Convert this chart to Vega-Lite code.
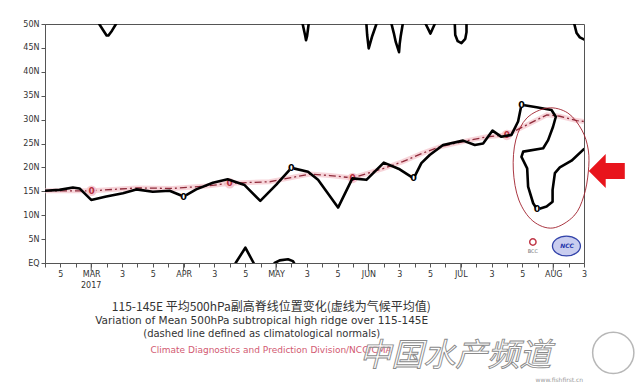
{
  "$schema": "https://vega.github.io/schema/vega-lite/v6.json",
  "width": 539,
  "height": 239,
  "autosize": "none",
  "padding": {"left": 45, "top": 24, "right": 52, "bottom": 127},
  "background": "white",
  "config": {
    "font": "DejaVu Sans",
    "view": {"stroke": "#555", "strokeWidth": 1},
    "axis": {"grid": false, "domainColor": "#555", "tickColor": "#555", "labelColor": "#333", "labelFont": "DejaVu Sans", "labelFontSize": 8}
  },
  "resolve": {"axis": {"x": "independent", "y": "independent"}},
  "datasets": {
    "obs": [
      {"seg": "m", "i": 0, "p": -1.0, "lat": 15.1},
      {"seg": "m", "i": 1, "p": -0.06, "lat": 15.3},
      {"seg": "m", "i": 2, "p": 0.81, "lat": 15.8},
      {"seg": "m", "i": 3, "p": 1.24, "lat": 15.6},
      {"seg": "m", "i": 4, "p": 2.0, "lat": 13.2},
      {"seg": "m", "i": 5, "p": 2.98, "lat": 13.9},
      {"seg": "m", "i": 6, "p": 4.06, "lat": 14.6},
      {"seg": "m", "i": 7, "p": 4.93, "lat": 15.4},
      {"seg": "m", "i": 8, "p": 6.0, "lat": 14.9},
      {"seg": "m", "i": 9, "p": 7.09, "lat": 15.1},
      {"seg": "m", "i": 10, "p": 8.0, "lat": 13.9},
      {"seg": "m", "i": 11, "p": 8.82, "lat": 15.4},
      {"seg": "m", "i": 12, "p": 9.9, "lat": 16.8},
      {"seg": "m", "i": 13, "p": 10.86, "lat": 17.5},
      {"seg": "m", "i": 14, "p": 11.96, "lat": 16.3},
      {"seg": "m", "i": 15, "p": 12.98, "lat": 13.0},
      {"seg": "m", "i": 16, "p": 14.02, "lat": 16.4},
      {"seg": "m", "i": 17, "p": 15.0, "lat": 19.9},
      {"seg": "m", "i": 18, "p": 16.08, "lat": 19.1},
      {"seg": "m", "i": 19, "p": 16.73, "lat": 17.4},
      {"seg": "m", "i": 20, "p": 18.03, "lat": 11.6},
      {"seg": "m", "i": 21, "p": 18.96, "lat": 17.7},
      {"seg": "m", "i": 22, "p": 19.87, "lat": 17.4},
      {"seg": "m", "i": 23, "p": 21.0, "lat": 21.0},
      {"seg": "m", "i": 24, "p": 22.03, "lat": 19.6},
      {"seg": "m", "i": 25, "p": 22.94, "lat": 17.7},
      {"seg": "m", "i": 26, "p": 23.44, "lat": 20.9},
      {"seg": "m", "i": 27, "p": 23.98, "lat": 22.6},
      {"seg": "m", "i": 28, "p": 24.85, "lat": 24.7},
      {"seg": "m", "i": 29, "p": 26.15, "lat": 25.6},
      {"seg": "m", "i": 30, "p": 26.91, "lat": 24.7},
      {"seg": "m", "i": 31, "p": 27.45, "lat": 25.0},
      {"seg": "m", "i": 32, "p": 28.06, "lat": 27.7},
      {"seg": "m", "i": 33, "p": 28.64, "lat": 26.4},
      {"seg": "m", "i": 34, "p": 29.29, "lat": 26.8},
      {"seg": "m", "i": 35, "p": 29.72, "lat": 29.6},
      {"seg": "m", "i": 36, "p": 29.94, "lat": 33.1},
      {"seg": "m", "i": 37, "p": 30.92, "lat": 32.6},
      {"seg": "m", "i": 38, "p": 31.89, "lat": 32.0},
      {"seg": "m", "i": 39, "p": 32.17, "lat": 30.6},
      {"seg": "m", "i": 40, "p": 31.99, "lat": 28.5},
      {"seg": "m", "i": 41, "p": 31.67, "lat": 25.7},
      {"seg": "m", "i": 42, "p": 31.35, "lat": 24.0},
      {"seg": "m", "i": 43, "p": 30.05, "lat": 23.3},
      {"seg": "m", "i": 44, "p": 29.94, "lat": 22.2},
      {"seg": "m", "i": 45, "p": 30.31, "lat": 19.8},
      {"seg": "m", "i": 46, "p": 30.37, "lat": 16.0},
      {"seg": "m", "i": 47, "p": 30.7, "lat": 12.5},
      {"seg": "m", "i": 48, "p": 30.96, "lat": 11.2},
      {"seg": "m", "i": 49, "p": 31.57, "lat": 11.8},
      {"seg": "m", "i": 50, "p": 31.96, "lat": 12.8},
      {"seg": "m", "i": 51, "p": 31.96, "lat": 15.3},
      {"seg": "m", "i": 52, "p": 32.11, "lat": 18.8},
      {"seg": "m", "i": 53, "p": 32.43, "lat": 20.0},
      {"seg": "m", "i": 54, "p": 33.19, "lat": 21.4},
      {"seg": "m", "i": 55, "p": 33.99, "lat": 23.8},
      {"seg": "A", "i": 0, "p": 2.52, "lat": 50},
      {"seg": "A", "i": 1, "p": 2.8, "lat": 48.6},
      {"seg": "A", "i": 2, "p": 3.0, "lat": 47.6},
      {"seg": "A", "i": 3, "p": 3.12, "lat": 47.6},
      {"seg": "A", "i": 4, "p": 3.35, "lat": 48.6},
      {"seg": "A", "i": 5, "p": 3.61, "lat": 50},
      {"seg": "B", "i": 0, "p": 15.73, "lat": 50},
      {"seg": "B", "i": 1, "p": 15.9, "lat": 47.5},
      {"seg": "B", "i": 2, "p": 15.95, "lat": 46.6},
      {"seg": "B", "i": 3, "p": 16.02, "lat": 47.5},
      {"seg": "B", "i": 4, "p": 16.12, "lat": 50},
      {"seg": "C", "i": 0, "p": 19.87, "lat": 50},
      {"seg": "C", "i": 1, "p": 19.92, "lat": 47.7},
      {"seg": "C", "i": 2, "p": 20.02, "lat": 44.9},
      {"seg": "C", "i": 3, "p": 20.25, "lat": 47.5},
      {"seg": "C", "i": 4, "p": 20.52, "lat": 50},
      {"seg": "D", "i": 0, "p": 21.5, "lat": 50},
      {"seg": "D", "i": 1, "p": 21.65, "lat": 48.1},
      {"seg": "D", "i": 2, "p": 21.78, "lat": 46.2},
      {"seg": "D", "i": 3, "p": 21.99, "lat": 44.1},
      {"seg": "D", "i": 4, "p": 22.03, "lat": 45.8},
      {"seg": "D", "i": 5, "p": 22.1, "lat": 47.5},
      {"seg": "D", "i": 6, "p": 22.23, "lat": 50},
      {"seg": "E", "i": 0, "p": 23.72, "lat": 50},
      {"seg": "E", "i": 1, "p": 24.03, "lat": 48.0},
      {"seg": "E", "i": 2, "p": 24.31, "lat": 50},
      {"seg": "F", "i": 0, "p": 25.61, "lat": 50},
      {"seg": "F", "i": 1, "p": 25.64, "lat": 47.7},
      {"seg": "F", "i": 2, "p": 25.8, "lat": 46.4},
      {"seg": "F", "i": 3, "p": 26.04, "lat": 46.0},
      {"seg": "F", "i": 4, "p": 26.29, "lat": 46.9},
      {"seg": "F", "i": 5, "p": 26.37, "lat": 48.3},
      {"seg": "F", "i": 6, "p": 26.37, "lat": 50},
      {"seg": "G", "i": 0, "p": 33.37, "lat": 50},
      {"seg": "G", "i": 1, "p": 33.52, "lat": 48.1},
      {"seg": "G", "i": 2, "p": 33.73, "lat": 47.2},
      {"seg": "G", "i": 3, "p": 33.99, "lat": 46.8},
      {"seg": "H", "i": 0, "p": 11.38, "lat": 0},
      {"seg": "H", "i": 1, "p": 12.01, "lat": 3.2},
      {"seg": "H", "i": 2, "p": 12.55, "lat": 0},
      {"seg": "I", "i": 0, "p": 13.91, "lat": 0},
      {"seg": "I", "i": 1, "p": 14.24, "lat": 0.55},
      {"seg": "I", "i": 2, "p": 14.78, "lat": 0.8},
      {"seg": "I", "i": 3, "p": 15.1, "lat": 0.4},
      {"seg": "I", "i": 4, "p": 15.17, "lat": 0}
    ],
    "clim": [
      {"i": 0, "p": -1.0, "lat": 15.1},
      {"i": 1, "p": 2.02, "lat": 15.1},
      {"i": 2, "p": 4.95, "lat": 15.7},
      {"i": 3, "p": 7.28, "lat": 15.6},
      {"i": 4, "p": 9.49, "lat": 16.1},
      {"i": 5, "p": 10.99, "lat": 16.7},
      {"i": 6, "p": 13.59, "lat": 17.0},
      {"i": 7, "p": 16.19, "lat": 18.6},
      {"i": 8, "p": 17.5, "lat": 18.3},
      {"i": 9, "p": 18.98, "lat": 17.8},
      {"i": 10, "p": 20.99, "lat": 19.8},
      {"i": 11, "p": 22.23, "lat": 21.2},
      {"i": 12, "p": 23.53, "lat": 23.0},
      {"i": 13, "p": 24.64, "lat": 24.3},
      {"i": 14, "p": 26.58, "lat": 25.7},
      {"i": 15, "p": 27.69, "lat": 26.4},
      {"i": 16, "p": 28.99, "lat": 26.8},
      {"i": 17, "p": 30.48, "lat": 29.2},
      {"i": 18, "p": 31.59, "lat": 31.0},
      {"i": 19, "p": 32.43, "lat": 30.7},
      {"i": 20, "p": 33.53, "lat": 29.8},
      {"i": 21, "p": 33.99, "lat": 29.6}
    ],
    "lab0": [
      {"p": 8.0, "lat": 13.9},
      {"p": 15.0, "lat": 19.9},
      {"p": 22.94, "lat": 17.7},
      {"p": 29.94, "lat": 33.1},
      {"p": 30.96, "lat": 11.2}
    ],
    "labc": [
      {"p": 2.02, "lat": 15.1},
      {"p": 10.99, "lat": 16.7},
      {"p": 18.98, "lat": 17.8},
      {"p": 28.99, "lat": 26.8}
    ],
    "ell": [
      {"i": 0, "p": 31.65, "lat": 32.43},
      {"i": 1, "p": 32.95, "lat": 31.38},
      {"i": 2, "p": 33.86, "lat": 27.82},
      {"i": 3, "p": 34.28, "lat": 23.64},
      {"i": 4, "p": 34.28, "lat": 19.04},
      {"i": 5, "p": 33.99, "lat": 14.02},
      {"i": 6, "p": 33.34, "lat": 9.83},
      {"i": 7, "p": 31.98, "lat": 7.32},
      {"i": 8, "p": 30.68, "lat": 8.79},
      {"i": 9, "p": 29.77, "lat": 13.18},
      {"i": 10, "p": 29.41, "lat": 19.46},
      {"i": 11, "p": 29.57, "lat": 25.73},
      {"i": 12, "p": 30.29, "lat": 30.33}
    ],
    "months": [
      {"p": 2}, {"p": 8}, {"p": 14}, {"p": 20}, {"p": 26}, {"p": 32}
    ]
  },
  "layer": [
    {
      "data": {"name": "clim"},
      "mark": {"type": "line", "stroke": "#f3c3cb", "strokeWidth": 5, "opacity": 0.7, "clip": true},
      "encoding": {
        "x": {"field": "p", "type": "quantitative", "scale": {"domain": [-1, 34], "nice": false, "zero": false},
          "axis": {
            "orient": "bottom",
            "title": null,
            "values": [-1,0,1,2,3,4,5,6,7,8,9,10,11,12,13,14,15,16,17,18,19,20,21,22,23,24,25,26,27,28,29,30,31,32,33,34],
            "labelExpr": "datum.value==2?'MAR':datum.value==8?'APR':datum.value==14?'MAY':datum.value==20?'JUN':datum.value==26?'JUL':datum.value==32?'AUG':(datum.value%6==4?'3':(datum.value%6==0?'5':''))",
            "tickSize": 4,
            "labelPadding": 3,
            "labelBaseline": "top",
            "labelOverlap": false,
            "labelFlush": false
          }},
        "y": {"field": "lat", "type": "quantitative", "scale": {"domain": [0, 50], "nice": false, "zero": false},
          "axis": {
            "orient": "left",
            "title": null,
            "values": [0,5,10,15,20,25,30,35,40,45,50],
            "labelExpr": "datum.value==0?'EQ':datum.value+'N'",
            "tickSize": 4,
            "labelPadding": 2,
            "labelOverlap": false,
            "labelFlush": false
          }},
        "order": {"field": "i", "type": "quantitative"}
      }
    },
    {
      "data": {"name": "months"},
      "mark": {"type": "rule", "stroke": "#555", "strokeWidth": 1, "clip": false},
      "encoding": {
        "x": {"field": "p", "type": "quantitative", "axis": {"orient": "bottom", "title": null, "labels": false, "ticks": false, "domain": false}},
        "y": {"datum": 0, "axis": {"orient": "left", "title": null, "labels": false, "ticks": false, "domain": false}},
        "y2": {"datum": -1.7}
      }
    },
    {
      "data": {"name": "clim"},
      "mark": {"type": "line", "stroke": "#8e2a3a", "strokeWidth": 1.3, "strokeDash": [7, 3, 2, 3], "clip": true},
      "encoding": {
        "x": {"field": "p", "type": "quantitative", "axis": {"orient": "bottom", "title": null, "labels": false, "ticks": false, "domain": false}},
        "y": {"field": "lat", "type": "quantitative", "axis": {"orient": "left", "title": null, "labels": false, "ticks": false, "domain": false}},
        "order": {"field": "i", "type": "quantitative"}
      }
    },
    {
      "data": {"name": "labc"},
      "mark": {"type": "point", "shape": "circle", "filled": true, "color": "#f5c6ce", "size": 110, "opacity": 0.9},
      "encoding": {
        "x": {"field": "p", "type": "quantitative", "axis": {"orient": "bottom", "title": null, "labels": false, "ticks": false, "domain": false}},
        "y": {"field": "lat", "type": "quantitative", "axis": {"orient": "left", "title": null, "labels": false, "ticks": false, "domain": false}}
      }
    },
    {
      "data": {"name": "labc"},
      "mark": {"type": "text", "text": "0", "color": "#b8303f", "fontSize": 9, "fontWeight": "bold", "baseline": "middle"},
      "encoding": {
        "x": {"field": "p", "type": "quantitative", "axis": {"orient": "bottom", "title": null, "labels": false, "ticks": false, "domain": false}},
        "y": {"field": "lat", "type": "quantitative", "axis": {"orient": "left", "title": null, "labels": false, "ticks": false, "domain": false}}
      }
    },
    {
      "data": {"name": "obs"},
      "mark": {"type": "line", "stroke": "#000", "strokeWidth": 2.6, "strokeJoin": "round", "strokeCap": "round", "clip": true},
      "encoding": {
        "x": {"field": "p", "type": "quantitative", "axis": {"orient": "bottom", "title": null, "labels": false, "ticks": false, "domain": false}},
        "y": {"field": "lat", "type": "quantitative", "axis": {"orient": "left", "title": null, "labels": false, "ticks": false, "domain": false}},
        "detail": {"field": "seg", "type": "nominal"},
        "order": {"field": "i", "type": "quantitative"}
      }
    },
    {
      "data": {"name": "lab0"},
      "mark": {"type": "point", "shape": "circle", "filled": true, "color": "#fff", "size": 30, "opacity": 1},
      "encoding": {
        "x": {"field": "p", "type": "quantitative", "axis": {"orient": "bottom", "title": null, "labels": false, "ticks": false, "domain": false}},
        "y": {"field": "lat", "type": "quantitative", "axis": {"orient": "left", "title": null, "labels": false, "ticks": false, "domain": false}}
      }
    },
    {
      "data": {"name": "lab0"},
      "mark": {"type": "text", "text": "0", "color": "#000", "fontSize": 9.5, "fontWeight": "bold", "baseline": "middle"},
      "encoding": {
        "x": {"field": "p", "type": "quantitative", "axis": {"orient": "bottom", "title": null, "labels": false, "ticks": false, "domain": false}},
        "y": {"field": "lat", "type": "quantitative", "axis": {"orient": "left", "title": null, "labels": false, "ticks": false, "domain": false}}
      }
    },
    {
      "data": {"name": "ell"},
      "mark": {"type": "line", "interpolate": "cardinal-closed", "stroke": "#a0202c", "strokeWidth": 0.9, "clip": false},
      "encoding": {
        "x": {"field": "p", "type": "quantitative", "axis": {"orient": "bottom", "title": null, "labels": false, "ticks": false, "domain": false}},
        "y": {"field": "lat", "type": "quantitative", "axis": {"orient": "left", "title": null, "labels": false, "ticks": false, "domain": false}},
        "order": {"field": "i", "type": "quantitative"}
      }
    },
    {
      "data": {"values": [{"k": "arrow"}]},
      "mark": {"type": "point", "shape": "M-1,0L-0.06,-0.94L-0.06,-0.44L1,-0.44L1,0.44L-0.06,0.44L-0.06,0.94Z", "size": 1296, "filled": true, "color": "#e8141c", "opacity": 1, "clip": false},
      "encoding": {
        "x": {"datum": 35.48, "axis": {"orient": "bottom", "title": null, "labels": false, "ticks": false, "domain": false}},
        "y": {"datum": 19.25, "axis": {"orient": "left", "title": null, "labels": false, "ticks": false, "domain": false}}
      }
    },
    {
      "data": {"values": [{"k": "NCC"}]},
      "mark": {"type": "point", "shape": "M-1,0A1,0.71 0 1,1 1,0A1,0.71 0 1,1 -1,0Z", "size": 784, "filled": true, "fill": "#c9cdef", "stroke": "#3344aa", "strokeWidth": 1.3, "opacity": 1},
      "encoding": {
        "x": {"datum": 32.86, "axis": {"orient": "bottom", "title": null, "labels": false, "ticks": false, "domain": false}},
        "y": {"datum": 3.56, "axis": {"orient": "left", "title": null, "labels": false, "ticks": false, "domain": false}}
      }
    },
    {
      "data": {"values": [{"t": "NCC"}]},
      "mark": {"type": "text", "color": "#2233aa", "fontSize": 6, "fontWeight": "bold", "fontStyle": "italic", "baseline": "middle"},
      "encoding": {
        "x": {"datum": 32.9, "axis": {"orient": "bottom", "title": null, "labels": false, "ticks": false, "domain": false}},
        "y": {"datum": 3.5, "axis": {"orient": "left", "title": null, "labels": false, "ticks": false, "domain": false}},
        "text": {"field": "t"}
      }
    },
    {
      "data": {"values": [{"k": "BCC"}]},
      "mark": {"type": "point", "shape": "circle", "filled": false, "stroke": "#c03848", "strokeWidth": 1.5, "size": 40, "opacity": 1},
      "encoding": {
        "x": {"datum": 30.68, "axis": {"orient": "bottom", "title": null, "labels": false, "ticks": false, "domain": false}},
        "y": {"datum": 4.4, "axis": {"orient": "left", "title": null, "labels": false, "ticks": false, "domain": false}}
      }
    },
    {
      "data": {"values": [{"t": "BCC"}]},
      "mark": {"type": "text", "color": "#777", "fontSize": 5, "baseline": "middle"},
      "encoding": {
        "x": {"datum": 30.68, "axis": {"orient": "bottom", "title": null, "labels": false, "ticks": false, "domain": false}},
        "y": {"datum": 2.5, "axis": {"orient": "left", "title": null, "labels": false, "ticks": false, "domain": false}},
        "text": {"field": "t"}
      }
    },
    {
      "data": {"values": [{"t": "2017"}]},
      "mark": {"type": "text", "color": "#333", "fontSize": 8, "baseline": "middle"},
      "encoding": {
        "x": {"datum": 2, "axis": {"orient": "bottom", "title": null, "labels": false, "ticks": false, "domain": false}},
        "y": {"datum": -4.9, "axis": {"orient": "left", "title": null, "labels": false, "ticks": false, "domain": false}},
        "text": {"field": "t"}
      }
    },
    {
      "data": {"values": [{"t": "115-145E 平均500hPa副高脊线位置变化(虚线为气候平均值)"}]},
      "mark": {"type": "text", "font": "Noto Sans CJK SC", "fontSize": 12, "color": "#333", "align": "center", "baseline": "middle"},
      "encoding": {
        "x": {"datum": 13.7, "axis": {"orient": "bottom", "title": null, "labels": false, "ticks": false, "domain": false}},
        "y": {"datum": -9.2, "axis": {"orient": "left", "title": null, "labels": false, "ticks": false, "domain": false}},
        "text": {"field": "t"}
      }
    },
    {
      "data": {"values": [{"t": "Variation of Mean 500hPa subtropical high ridge over 115-145E"}]},
      "mark": {"type": "text", "font": "DejaVu Sans", "fontSize": 10.5, "color": "#333", "align": "center", "baseline": "middle"},
      "encoding": {
        "x": {"datum": 13.07, "axis": {"orient": "bottom", "title": null, "labels": false, "ticks": false, "domain": false}},
        "y": {"datum": -12.2, "axis": {"orient": "left", "title": null, "labels": false, "ticks": false, "domain": false}},
        "text": {"field": "t"}
      }
    },
    {
      "data": {"values": [{"t": "(dashed line defined as climatological normals)"}]},
      "mark": {"type": "text", "font": "DejaVu Sans", "fontSize": 10, "color": "#333", "align": "center", "baseline": "middle"},
      "encoding": {
        "x": {"datum": 13.07, "axis": {"orient": "bottom", "title": null, "labels": false, "ticks": false, "domain": false}},
        "y": {"datum": -14.75, "axis": {"orient": "left", "title": null, "labels": false, "ticks": false, "domain": false}},
        "text": {"field": "t"}
      }
    },
    {
      "data": {"values": [{"t": "Climate Diagnostics and Prediction Division/NCC/CMA"}]},
      "mark": {"type": "text", "font": "DejaVu Sans", "fontSize": 9, "color": "#d25a72", "align": "left", "baseline": "middle"},
      "encoding": {
        "x": {"datum": 5.85, "axis": {"orient": "bottom", "title": null, "labels": false, "ticks": false, "domain": false}},
        "y": {"datum": -18.1, "axis": {"orient": "left", "title": null, "labels": false, "ticks": false, "domain": false}},
        "text": {"field": "t"}
      }
    },
    {
      "data": {"values": [{"t": "中国水产频道"}]},
      "mark": {"type": "text", "font": "Noto Sans CJK SC", "fontSize": 32, "fontStyle": "italic", "fill": "#ffffff", "fillOpacity": 0.7, "stroke": "#8a8a8a", "strokeWidth": 0.9, "align": "left", "baseline": "middle"},
      "encoding": {
        "x": {"datum": 19.4, "axis": {"orient": "bottom", "title": null, "labels": false, "ticks": false, "domain": false}},
        "y": {"datum": -19.4, "axis": {"orient": "left", "title": null, "labels": false, "ticks": false, "domain": false}},
        "text": {"field": "t"}
      }
    },
    {
      "data": {"values": [{"k": "logo"}]},
      "mark": {"type": "point", "shape": "circle", "filled": false, "stroke": "#b0b0b0", "strokeWidth": 1.5, "size": 1700, "opacity": 0.9, "clip": false},
      "encoding": {
        "x": {"datum": 35.9, "axis": {"orient": "bottom", "title": null, "labels": false, "ticks": false, "domain": false}},
        "y": {"datum": -18.8, "axis": {"orient": "left", "title": null, "labels": false, "ticks": false, "domain": false}}
      }
    },
    {
      "data": {"values": [{"t": "www.fishfirst.cn"}]},
      "mark": {"type": "text", "font": "DejaVu Sans", "fontSize": 6, "color": "#9a9a9a", "align": "center", "baseline": "middle"},
      "encoding": {
        "x": {"datum": 32.4, "axis": {"orient": "bottom", "title": null, "labels": false, "ticks": false, "domain": false}},
        "y": {"datum": -24.5, "axis": {"orient": "left", "title": null, "labels": false, "ticks": false, "domain": false}},
        "text": {"field": "t"}
      }
    }
  ]
}
